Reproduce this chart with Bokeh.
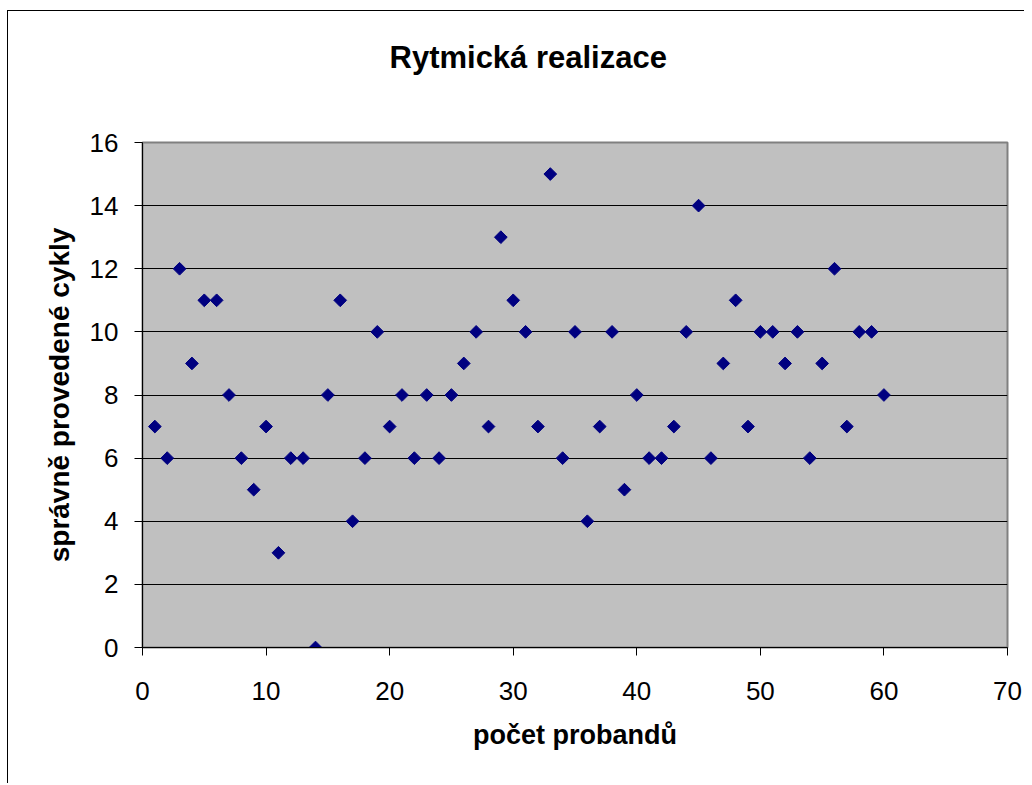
import numpy as np
from bokeh.plotting import figure
from bokeh.models import Range1d, FixedTicker, Title, ColumnDataSource
from bokeh.embed import file_html
from bokeh.resources import INLINE

# data
proband = list(range(1, 61))
cykly = [7, 6, 12, 9, 11, 11, 8, 6, 5, 7,
         3, 6, 6, 0, 8, 11, 4, 6, 10, 7,
         8, 6, 8, 6, 8, 9, 10, 7, 13, 11,
         10, 7, 15, 6, 10, 4, 7, 10, 5, 8,
         6, 6, 7, 10, 14, 6, 9, 11, 7, 10,
         10, 9, 10, 6, 9, 12, 7, 10, 10, 8]
x_ticks = [0, 10, 20, 30, 40, 50, 60, 70]
y_ticks = [0, 2, 4, 6, 8, 10, 12, 14, 16]
title_text = "Rytmická realizace"

FONT = "Liberation Sans"

p = figure(frame_width=865, frame_height=505,
           x_range=Range1d(0, 70), y_range=Range1d(0, 16),
           output_backend="svg", toolbar_location=None,
           min_border_left=134, min_border_top=131,
           min_border_right=17, min_border_bottom=136,
           background_fill_color="#C0C0C0", border_fill_color="white",
           outline_line_color="#808080", outline_line_width=2)

p.styles = {"margin-left": "7px", "margin-top": "10px",
            "border-left": "1px solid black", "border-top": "1px solid black"}

spacer = Title(text=" ", standoff=38, text_font=FONT, text_font_size="2px")
p.add_layout(spacer, "above")

t = Title(text=title_text, align="left", offset=247, standoff=52,
          text_font=FONT, text_font_size="31px", text_font_style="bold",
          text_color="black")
p.add_layout(t, "above")

src = ColumnDataSource(dict(x=proband, y=cykly))
p.scatter("x", "y", source=src, marker="square", angle=np.pi / 4, size=9,
          fill_color="#000080", line_color="#000080")

for ax in (p.xaxis[0], p.yaxis[0]):
    ax.axis_line_color = "black"
    ax.axis_line_width = 1
    ax.major_tick_line_color = "black"
    ax.major_tick_out = 8
    ax.major_tick_in = 0
    ax.minor_tick_line_color = None
    ax.major_label_text_font = FONT
    ax.major_label_text_font_size = "26px"
    ax.major_label_text_color = "black"
    ax.axis_label_text_font = FONT
    ax.axis_label_text_font_style = "bold"
    ax.axis_label_text_color = "black"

p.xaxis.ticker = FixedTicker(ticks=x_ticks)
p.yaxis.ticker = FixedTicker(ticks=y_ticks)
p.xaxis.axis_label = "počet probandů"
p.yaxis.axis_label = "správně provedené cykly"
p.xaxis.axis_label_text_font_size = "27px"
p.yaxis.axis_label_text_font_size = "28px"
p.xaxis.major_label_standoff = 26
p.yaxis.major_label_standoff = 16
p.xaxis.axis_label_standoff = 17
p.yaxis.axis_label_standoff = 12

p.xgrid.grid_line_color = None
p.ygrid.grid_line_color = "black"
p.ygrid.grid_line_width = 1
p.ygrid.ticker = FixedTicker(ticks=y_ticks)

open("out.html", "w").write(file_html(p, INLINE))
